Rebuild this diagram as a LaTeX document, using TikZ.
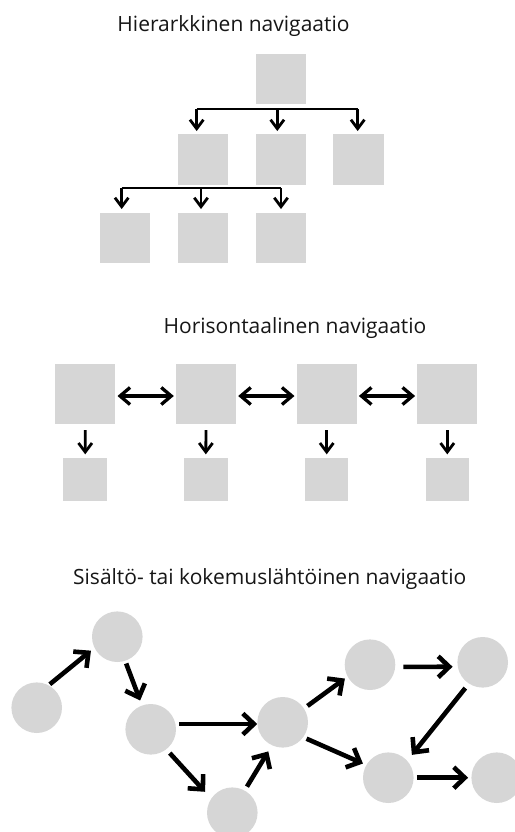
\documentclass[tikz,border=0pt]{standalone}
\usepackage{fontspec}
\setmainfont{Open Sans}
\usetikzlibrary{arrows.meta}
\definecolor{boxgray}{RGB}{214,214,214}
\definecolor{inkgray}{RGB}{22,22,22}
\begin{document}
\begin{tikzpicture}[x=1pt,y=-1pt,
  title/.style={anchor=base, inner sep=0pt, font=\fontsize{21}{25}\selectfont, text=inkgray},
  sq/.style={fill=boxgray, draw=none, inner sep=0pt, minimum size=#1},
  dot/.style={circle, fill=boxgray, draw=none, inner sep=0pt, minimum size=50.6},
  bar/.style={draw=black, line width=2.2},
  tarr/.style={draw=black, line width=2.8, line join=miter, -{Straight Barb[length=9,width=13.5]}},
  darr/.style={draw=black, line width=3.3, line join=miter, {Straight Barb[length=10,width=17]}-{Straight Barb[length=10,width=17]}},
  carr/.style={draw=black, line width=4.6, line join=miter, -{Straight Barb[length=11,width=21]}},
]
\useasboundingbox (0,0) rectangle (514,832);

% ---------- hierarchical ----------
\node[title] (title-hier) at (233.5,32) {Hierarkkinen navigaatio};
\node[sq=50.5] (r)  at (281,79.2) {};
\node[sq=50.5] (m1) at (203,159.5) {};
\node[sq=50.5] (m2) at (281,159.5) {};
\node[sq=50.5] (m3) at (358.7,159.5) {};
\node[sq=50.5] (l1) at (125.2,238) {};
\node[sq=50.5] (l2) at (203,238) {};
\node[sq=50.5] (l3) at (281,238) {};

\coordinate (ba1) at (196.7,109.3);
\coordinate (ba2) at (277.3,109.3);
\coordinate (ba3) at (357.7,109.3);
\draw[bar] (ba1) -- (ba3);
\draw[tarr, shorten >=3] (ba1) -- (ba1 |- m1.north);
\draw[tarr, shorten >=3] (ba2) -- (ba2 |- m2.north);
\draw[tarr, shorten >=3] (ba3) -- (ba3 |- m3.north);

\coordinate (bb1) at (121.7,188.3);
\coordinate (bb2) at (201,188.3);
\coordinate (bb3) at (281,188.3);
\draw[bar] (bb1) -- (bb3);
\draw[tarr, shorten >=3.5] (bb1) -- (bb1 |- l1.north);
\draw[tarr, shorten >=3.5] (bb2) -- (bb2 |- l2.north);
\draw[tarr, shorten >=3.5] (bb3) -- (bb3 |- l3.north);

% ---------- horizontal ----------
\node[title] (title-hor) at (295,333) {Horisontaalinen navigaatio};
\node[sq=60] (h1) at (85.3,394) {};
\node[sq=60] (h2) at (206,394) {};
\node[sq=60] (h3) at (326.7,394) {};
\node[sq=60] (h4) at (447.3,394) {};
\node[sq=43.5] (s1) at (85.2,479.3) {};
\node[sq=43.5] (s2) at (205.8,479.3) {};
\node[sq=43.5] (s3) at (326.7,479.3) {};
\node[sq=43.5] (s4) at (447.3,479.3) {};

\draw[darr, shorten <=2, shorten >=2] ([yshift=-2pt]h1.east) -- ([yshift=-2pt]h2.west);
\draw[darr, shorten <=2, shorten >=2] ([yshift=-2pt]h2.east) -- ([yshift=-2pt]h3.west);
\draw[darr, shorten <=2, shorten >=2] ([yshift=-2pt]h3.east) -- ([yshift=-2pt]h4.west);
\draw[tarr, shorten <=6, shorten >=3] (h1.south) -- (s1.north);
\draw[tarr, shorten <=6, shorten >=3] (h2.south) -- (s2.north);
\draw[tarr, shorten <=6, shorten >=3] (h3.south) -- (s3.north);
\draw[tarr, shorten <=6, shorten >=3] (h4.south) -- (s4.north);

% ---------- content / experience driven ----------
\node[title] (title-exp) at (269.7,584) {Sisältö- tai kokemuslähtöinen navigaatio};
\node[dot] (A) at (36.7,707.7) {};
\node[dot] (B) at (117.3,636.7) {};
\node[dot] (C) at (150.7,729.3) {};
\node[dot] (D) at (232.3,812.7) {};
\node[dot] (E) at (282.7,722.3) {};
\node[dot] (F) at (370,664.7) {};
\node[dot] (G) at (482.7,662.3) {};
\node[dot] (H) at (388.3,777.7) {};
\node[dot] (I) at (496.7,777.7) {};

\draw[carr, shorten <=1.5, shorten >=4.4] (A.62) -- (B.206);
\draw[carr, shorten <=2.7, shorten >=5.2] (B.288) -- (C.110);
\draw[carr, shorten <=3.6] (C.12) -- (C.12 -| E.west);
\draw[carr, shorten <=5, shorten >=9] (C.308) -- (D.146);
\draw[carr, shorten <=4.4, shorten >=7] (D.61) -- (E.245);
\draw[carr, shorten <=4.2, shorten >=3.2] (E.33) -- (F.208);
\draw[carr, shorten <=3.5, shorten >=3.6] (E.324) -- (H.150);
\draw[carr, shorten <=8, shorten >=5] (F.-5) -- (G.190);
\draw[carr, shorten <=5.6, shorten >=7.4] (G.237) -- (H.42);
\draw[carr, shorten <=3.1, shorten >=3.1] (H.east) -- (I.west);
\end{tikzpicture}
\end{document}
